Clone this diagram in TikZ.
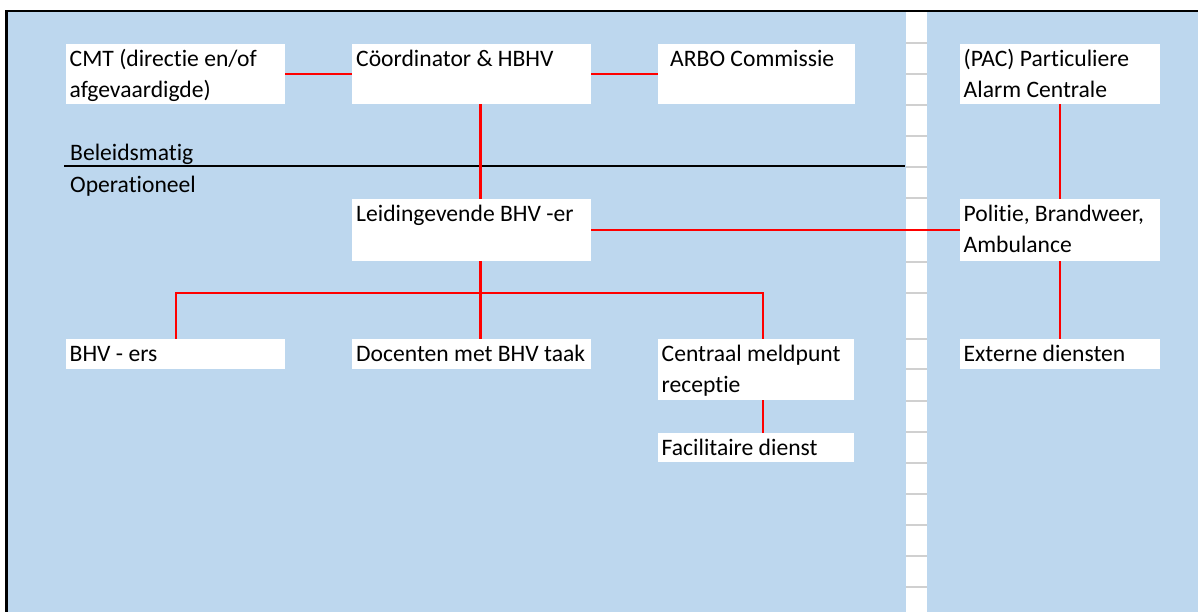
\documentclass[tikz,border=0pt]{standalone}
\usepackage{fontspec}
\setmainfont{Carlito}[Ligatures={NoCommon}]
\definecolor{bgblue}{RGB}{189,215,238}
\definecolor{gridgray}{RGB}{208,208,208}
\definecolor{linkred}{RGB}{255,0,0}
\begin{document}
\begin{tikzpicture}[x=1pt,y=-1pt,
  box/.style={fill=white, draw=none, inner sep=0pt, anchor=north west},
  txt/.style={anchor=north west, inner sep=0pt, align=left, font=\fontsize{23.6}{31}\selectfont},
  link/.style={draw=linkred, line width=2.2pt},
  sep/.style={draw=black, line width=1.6pt},
  grid/.style={draw=gridgray, line width=2pt}]
\useasboundingbox (0,0) rectangle (1198,612);
% background
\fill[bgblue] (8,12) rectangle (1198,612);
\fill[white] (906,12) rectangle (927,612);
\foreach \yy in {43,74,105,136,167,198,230,262,293,339,369,401,432,463,494,525,556,587}
  \draw[grid] (906,\yy) -- (927,\yy);
% level separator
\coordinate (sepL) at (64,166.3);
\coordinate (sepR) at (905,166.3);
\draw[sep] (sepL) -- (sepR);
\node[txt] (bel) at (70,139) {\strut Beleidsmatig};
\node[txt] (ope) at (70,171) {\strut Operationeel};
% boxes
\node[box, minimum width=219pt, minimum height=60pt] (cmt) at (66,44) {};
\node[box, minimum width=239pt, minimum height=60pt] (coord) at (352,44) {};
\node[box, minimum width=197pt, minimum height=60pt] (arbo) at (658,44) {};
\node[box, minimum width=200pt, minimum height=60pt] (pac) at (960,44) {};
\node[box, minimum width=239pt, minimum height=62pt] (leid) at (352,199) {};
\node[box, minimum width=200pt, minimum height=62pt] (pol) at (960,199) {};
\node[box, minimum width=219pt, minimum height=30pt] (bhv) at (66,339) {};
\node[box, minimum width=239pt, minimum height=30pt] (doc) at (352,339) {};
\node[box, minimum width=196pt, minimum height=61pt] (centr) at (658,339) {};
\node[box, minimum width=196pt, minimum height=29pt] (fac) at (658,433) {};
\node[box, minimum width=200pt, minimum height=30pt] (ext) at (960,339) {};
% connectors
\coordinate (vx) at (480.5,0);
\coordinate (cx) at (763,0);
\coordinate (hub) at (480.5,293);
\draw[link] (cmt.east) -- (coord.west);
\draw[link] (coord.east) -- (arbo.west);
\draw[link] (coord.south -| vx) -- (leid.north -| vx);
\draw[link] (leid.east) -- (pol.west);
\draw[link] (pac.south) -- (pol.north);
\draw[link] (pol.south) -- (ext.north);
\draw[link] (leid.south -| vx) -- (doc.north -| vx);
\draw[link] (bhv.north) |- (hub) -- (hub -| cx) -- (centr.north -| cx);
\draw[link] (centr.south -| cx) -- (fac.north -| cx);
% texts
\node[txt] (tcmt) at ([shift={(3.5,0.5)}]cmt.north west) {\strut CMT (directie en/of\\\strut afgevaardigde)};
\node[txt] (tcoord) at ([shift={(4,0.5)}]coord.north west) {\strut Cöordinator \& HBHV};
\node[txt] (tarbo) at ([shift={(12,0.5)}]arbo.north west) {\strut ARBO Commissie};
\node[txt] (tpac) at ([shift={(3.5,0.5)}]pac.north west) {\strut (PAC) Particuliere\\\strut Alarm Centrale};
\node[txt] (tleid) at ([shift={(4,1)}]leid.north west) {\strut Leidingevende BHV -er};
\node[txt] (tpol) at ([shift={(3.5,1)}]pol.north west) {\strut Politie, Brandweer,\\\strut Ambulance};
\node[txt] (tbhv) at ([shift={(3.5,1)}]bhv.north west) {\strut BHV - ers};
\node[txt] (tdoc) at ([shift={(4,1)}]doc.north west) {\strut Docenten met BHV taak};
\node[txt] (tcentr) at ([shift={(3.5,1)}]centr.north west) {\strut Centraal meldpunt\\\strut receptie};
\node[txt] (tfac) at ([shift={(3.5,1)}]fac.north west) {\strut Facilitaire dienst};
\node[txt] (text) at ([shift={(3.5,1)}]ext.north west) {\strut Externe diensten};
% outer border
\draw[line width=2.5pt] (6.7,612) -- (6.7,11.2) -- (1198,11.2);
\end{tikzpicture}
\end{document}
